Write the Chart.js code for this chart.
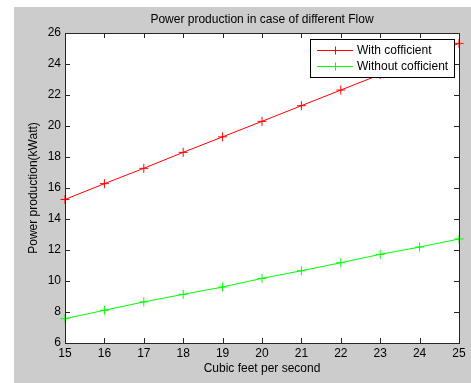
<!DOCTYPE html>
<html>
<head>
<meta charset="utf-8">
<script src="https://cdn.jsdelivr.net/npm/chart.js@4/dist/chart.umd.min.js"></script>
<style>
  html, body { margin: 0; padding: 0; background: #ffffff; }
  #wrap { width: 471px; height: 383px; position: relative; }
</style>
</head>
<body>
<div id="wrap"><canvas id="c" width="471" height="383"></canvas></div>
<script>
// ---- data ----
const flowValues = [15, 16, 17, 18, 19, 20, 21, 22, 23, 24, 25];
const withCoefficient = [15.26, 16.28, 17.27, 18.30, 19.30, 20.30, 21.31, 22.32, 23.32, 24.33, 25.33];
const withoutCoefficient = [7.57, 8.11, 8.65, 9.14, 9.61, 10.17, 10.66, 11.18, 11.72, 12.19, 12.71];
const xTicks = [15, 16, 17, 18, 19, 20, 21, 22, 23, 24, 25];
const yTicks = [6, 8, 10, 12, 14, 16, 18, 20, 22, 24, 26];
const seriesNames = ['With cofficient', 'Without cofficient'];
const titleText = 'Power production in case of different Flow';
const xAxisTitle = 'Cubic feet per second';
const yAxisTitle = 'Power production(kWatt)';

const FONT = '"Liberation Sans", Arial, Helvetica, sans-serif';
const GRAY = '#cccccc';
const AXIS = '#262626';

function toPoints(xs, ys) { return xs.map((x, i) => ({ x: x, y: ys[i] })); }

const bgPlugin = {
  id: 'bg',
  beforeDraw(chart) {
    const ctx = chart.ctx, a = chart.chartArea;
    ctx.save();
    ctx.fillStyle = '#ffffff';
    ctx.fillRect(0, 0, chart.width, chart.height);
    ctx.fillStyle = GRAY;
    ctx.fillRect(14, 7, chart.width - 14, chart.height - 7);
    ctx.fillStyle = '#ffffff';
    ctx.fillRect(a.left, a.top, a.right - a.left, a.bottom - a.top);
    ctx.restore();
  }
};

const boxPlugin = {
  id: 'box',
  afterDatasetsDraw(chart) {
    const ctx = chart.ctx, a = chart.chartArea;
    const xs = chart.scales.x, ys = chart.scales.y;
    const L = 5;
    ctx.save();
    ctx.strokeStyle = AXIS;
    ctx.lineWidth = 1;
    ctx.beginPath();
    xTicks.forEach(v => {
      const px = Math.round(xs.getPixelForValue(v)) + 0.5;
      ctx.moveTo(px, a.bottom); ctx.lineTo(px, a.bottom - L);
      ctx.moveTo(px, a.top); ctx.lineTo(px, a.top + L);
    });
    yTicks.forEach(v => {
      const py = Math.round(ys.getPixelForValue(v)) + 0.5;
      ctx.moveTo(a.left, py); ctx.lineTo(a.left + L, py);
      ctx.moveTo(a.right, py); ctx.lineTo(a.right - L, py);
    });
    ctx.stroke();
    ctx.strokeRect(Math.round(a.left) + 0.5, Math.round(a.top) + 0.5,
                   Math.round(a.right - a.left), Math.round(a.bottom - a.top));
    ctx.restore();

    // legend box
    const bx = 310.5, by = 39.5, bw = 144, bh = 38;
    ctx.save();
    ctx.fillStyle = '#ffffff';
    ctx.fillRect(bx, by, bw, bh);
    ctx.strokeStyle = '#000000';
    ctx.strokeRect(bx, by, bw, bh);
    chart.data.datasets.forEach((ds, i) => {
      const cy = Math.round(49.5 + i * 16) + 0.5;
      ctx.strokeStyle = ds.borderColor;
      ctx.lineWidth = 1;
      ctx.beginPath();
      ctx.moveTo(317, cy); ctx.lineTo(353, cy);
      ctx.moveTo(335.5, cy - 4); ctx.lineTo(335.5, cy + 4);
      ctx.moveTo(331.5, cy); ctx.lineTo(339.5, cy);
      ctx.stroke();
      ctx.fillStyle = '#000000';
      ctx.font = '12px ' + FONT;
      ctx.textBaseline = 'middle';
      ctx.textAlign = 'left';
      ctx.fillText(ds.label, 357, cy);
    });
    ctx.restore();
  }
};

new Chart(document.getElementById('c'), {
  type: 'line',
  data: {
    datasets: [
      {
        label: seriesNames[0],
        data: toPoints(flowValues, withCoefficient),
        borderColor: '#ff0000',
        backgroundColor: '#ff0000',
        borderWidth: 1,
        pointStyle: 'cross',
        pointRadius: 4.5,
        pointBorderWidth: 1,
        pointHoverRadius: 4.5,
        tension: 0,
        clip: false
      },
      {
        label: seriesNames[1],
        data: toPoints(flowValues, withoutCoefficient),
        borderColor: '#00ff00',
        backgroundColor: '#00ff00',
        borderWidth: 1,
        pointStyle: 'cross',
        pointRadius: 4.5,
        pointBorderWidth: 1,
        pointHoverRadius: 4.5,
        tension: 0,
        clip: false
      }
    ]
  },
  options: {
    responsive: false,
    animation: false,
    devicePixelRatio: 1,
    events: [],
    layout: { padding: { left: 14, right: 12, top: 0, bottom: 0 } },
    plugins: {
      legend: { display: false },
      tooltip: { enabled: false },
      title: {
        display: true,
        text: titleText,
        fullSize: false,
        color: '#000000',
        font: { family: FONT, size: 12, weight: 'normal', lineHeight: 1.2 },
        padding: { top: 12, bottom: 6.6 }
      }
    },
    scales: {
      x: {
        type: 'linear',
        min: 15, max: 25,
        afterBuildTicks(scale) { scale.ticks = xTicks.map(v => ({ value: v })); },
        afterFit(scale) { scale.height = 40; },
        grid: { display: false, drawTicks: false, tickLength: 0 },
        border: { display: false },
        ticks: {
          color: '#000000',
          font: { family: FONT, size: 12 },
          padding: 3,
          maxRotation: 0,
          autoSkip: false
        },
        title: {
          display: true,
          text: xAxisTitle,
          color: '#000000',
          font: { family: FONT, size: 12, lineHeight: 1.2 },
          padding: { top: 0, bottom: 6.8 }
        }
      },
      y: {
        type: 'linear',
        min: 6, max: 26,
        afterBuildTicks(scale) { scale.ticks = yTicks.map(v => ({ value: v })); },
        afterFit(scale) { scale.width = 51; },
        grid: { display: false, drawTicks: false, tickLength: 0 },
        border: { display: false },
        ticks: {
          color: '#000000',
          font: { family: FONT, size: 12 },
          padding: 4,
          autoSkip: false
        },
        title: {
          display: true,
          text: yAxisTitle,
          color: '#000000',
          font: { family: FONT, size: 12, lineHeight: 1.2 },
          padding: { top: 12.8, bottom: 0 }
        }
      }
    }
  },
  plugins: [bgPlugin, boxPlugin]
});
</script>
</body>
</html>
